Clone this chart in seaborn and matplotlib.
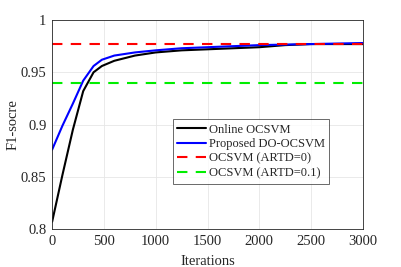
import numpy as np
import pandas as pd
import seaborn as sns
import matplotlib.pyplot as plt

# === data ===
iters_online = [0, 100, 200, 300, 400, 480, 600, 800, 1000, 1250, 1500, 1750, 2000, 2250, 2500, 3000]
f1_online = [0.807, 0.852, 0.895, 0.932, 0.950, 0.956, 0.961, 0.966, 0.969, 0.971, 0.972, 0.973, 0.974, 0.976, 0.977, 0.977]

iters_do = [0, 100, 200, 300, 400, 480, 600, 800, 1000, 1250, 1500, 1750, 2000, 2500, 3000]
f1_do = [0.876, 0.899, 0.920, 0.942, 0.956, 0.962, 0.966, 0.969, 0.971, 0.973, 0.974, 0.975, 0.976, 0.977, 0.978]

baseline_artd0 = 0.977
baseline_artd01 = 0.940

sns.set_style("whitegrid")
plt.rcParams['font.family'] = ['Liberation Serif', 'DejaVu Serif']

fig = plt.figure(figsize=(4.01, 2.67), dpi=100)
ax = fig.add_axes([0.130, 0.142, 0.775, 0.783])

df_online = pd.DataFrame({"it": iters_online, "f1": f1_online})
df_do = pd.DataFrame({"it": iters_do, "f1": f1_do})

sns.lineplot(data=df_online, x="it", y="f1", color="black", lw=1.5, ax=ax, label="Online OCSVM")
sns.lineplot(data=df_do, x="it", y="f1", color="blue", lw=1.5, ax=ax, label="Proposed DO-OCSVM")
ax.axhline(baseline_artd0, color="red", lw=1.5, ls=(0, (5, 4)), label="OCSVM (ARTD=0)")
ax.axhline(baseline_artd01, color="#00ee00", lw=1.5, ls=(0, (5, 4)), label="OCSVM (ARTD=0.1)")

ax.set_xlim(0, 3000)
ax.set_ylim(0.8, 1.0)
ax.set_xticks([0, 500, 1000, 1500, 2000, 2500, 3000])
ax.set_yticks([0.8, 0.85, 0.9, 0.95, 1.0])
ax.set_yticklabels(["0.8", "0.85", "0.9", "0.95", "1"])
ax.set_xlabel("Iterations", fontsize=10.5, labelpad=5)
ax.set_ylabel("F1-socre", fontsize=10.5, labelpad=1)
ax.tick_params(labelsize=10.5, direction="in", length=3, colors="#262626", pad=4)
ax.grid(True, color="#e6e6e6", lw=0.6)
for s in ax.spines.values():
    s.set_color("#262626")
    s.set_linewidth(0.6)

leg = ax.legend(loc="upper left", bbox_to_anchor=(0.389, 0.525), fontsize=9,
                frameon=True, fancybox=False, handlelength=2.3, handletextpad=0.2,
                borderpad=0.35, labelspacing=0.2, borderaxespad=0)
leg.get_frame().set_edgecolor("#262626")
leg.get_frame().set_linewidth(0.6)

fig.savefig("out.png", dpi=100)
plt.close()
